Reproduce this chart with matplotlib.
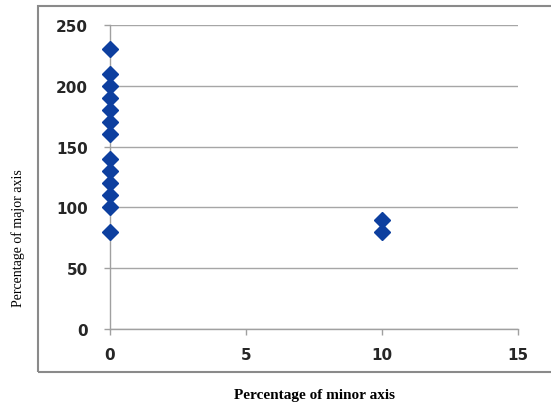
import matplotlib
matplotlib.use('Agg')
import matplotlib.pyplot as plt
from matplotlib.patches import Rectangle

# percentage of minor axis vs percentage of major axis
minor_pct = [0, 0, 0, 0, 0, 0, 0, 0, 0, 0, 0, 0, 0, 10, 10]
major_pct = [80, 100, 110, 120, 130, 140, 160, 170, 180, 190, 200, 210, 230, 80, 90]

x_ticks = [0, 5, 10, 15]
y_ticks = [0, 50, 100, 150, 200, 250]

fig = plt.figure(figsize=(5.51, 4.10), dpi=100)

# chart-area border (Excel style)
fig.patches.append(Rectangle((0.069, 0.090), 1.0, 0.893, transform=fig.transFigure,
                             fill=False, edgecolor='#8a8a8a', linewidth=1.5))

ax = fig.add_axes([0.1996, 0.195, 0.7404, 0.7416])
ax.plot(minor_pct, major_pct, linestyle='none', marker='D', markersize=8.5,
        color='#0d3f9f', zorder=3, clip_on=False)

ax.set_xlim(0, 15)
ax.set_ylim(0, 250)
ax.set_xticks(x_ticks)
ax.set_yticks(y_ticks)

ax.yaxis.grid(True, color='#a6a6a6', linewidth=1)
ax.set_axisbelow(True)
for side in ['top', 'right']:
    ax.spines[side].set_visible(False)
for side in ['left', 'bottom']:
    ax.spines[side].set_color('#a0a0a0')
    ax.spines[side].set_linewidth(1)

ax.tick_params(axis='both', colors='#a0a0a0', length=4, width=1,
               labelcolor='#262626', labelsize=11)
ax.tick_params(axis='y', pad=12)
ax.tick_params(axis='x', pad=9)
for lbl in ax.get_xticklabels() + ax.get_yticklabels():
    lbl.set_fontweight('bold')

fig.text(0.033, 0.42, 'Percentage of major axis', rotation=90, ha='center', va='center',
         family='Liberation Serif', fontsize=10)
fig.text(0.57, 0.035, 'Percentage of minor axis', ha='center', va='center',
         family='Liberation Serif', fontsize=11, fontweight='bold')

fig.savefig('out.png', dpi=100)
